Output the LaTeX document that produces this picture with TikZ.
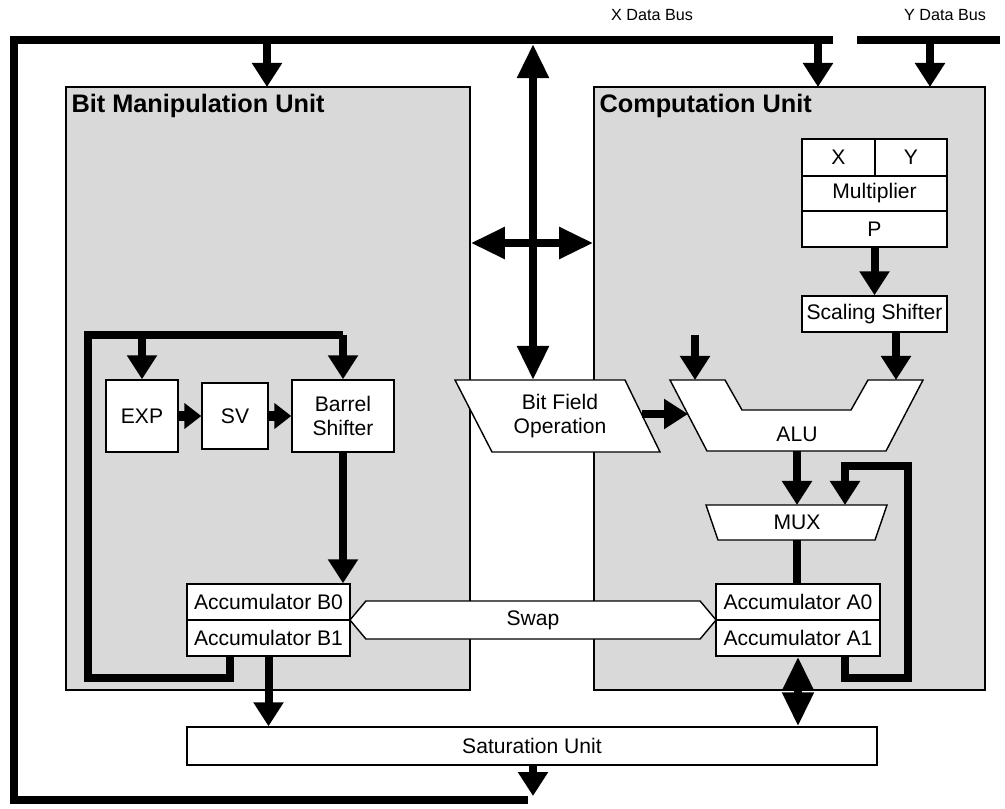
\documentclass[tikz,border=0pt]{standalone}
\usepackage{fontspec}
\setmainfont{Liberation Sans}
\usetikzlibrary{arrows.meta,shapes.symbols}

\tikzset{
  unitbox/.style={draw, line width=1pt, fill=black!15, inner sep=0pt},
  blk/.style={draw, line width=1pt, fill=white, inner sep=0pt, font=\fontsize{15}{17}\selectfont},
  blkline/.style={draw, line width=1pt, fill=white, line join=miter},
  lbl/.style={inner sep=0pt, font=\fontsize{15}{17}\selectfont, align=center},
  unittitle/.style={anchor=north west, inner sep=0pt, font=\bfseries\fontsize{18}{20}\selectfont},
  buslbl/.style={inner sep=0pt, font=\fontsize{11.5}{13}\selectfont},
  bus/.style={line width=0.2cm, line join=miter},
  flow/.style={line width=0.2cm, -{Triangle[width=0.72cm,length=0.6cm]}},
  shortflow/.style={line width=0.24cm, -{Triangle[width=0.62cm,length=0.42cm]}},
  both/.style={line width=0.2cm, {Triangle[width=0.75cm,length=0.85cm]}-{Triangle[width=0.75cm,length=0.85cm]}}
}

\begin{document}
\begin{tikzpicture}[x=0.025cm, y=-0.025cm]
    \useasboundingbox (0,0) rectangle (1005,808);

    % Units
    \node[unitbox, minimum width=10.1cm, minimum height=15.075cm] (bmu) at (268,388.5) {};
    \node[unitbox, minimum width=9.775cm, minimum height=15.075cm] (cu) at (789.5,388.5) {};
    \node[unittitle] (bmutitle) at ([shift={(6,8)}]bmu.north west) {Bit Manipulation Unit};
    \node[unittitle] (cutitle) at ([shift={(6,8)}]cu.north west) {Computation Unit};

    % Data buses
    \node[buslbl] (xlbl) at (652,15) {X Data Bus};
    \node[buslbl] (ylbl) at (945,15) {Y Data Bus};
    \coordinate (xend) at (833,40);
    \coordinate (xleft) at (14,40);
    \coordinate (xbot) at (528,800);
    \draw[bus] (xend) -- (xleft) -- (14,800) -- (xbot);
    \draw[bus] (857,40) -- (1000,40);
    \foreach \x in {267,818,930} \draw[flow] (\x,40) -- (\x,87);

    % Bit manipulation unit
    \node[blk, minimum width=1.8cm, minimum height=1.8cm] (exp) at (142,416) {EXP};
    \node[blk, minimum width=1.65cm, minimum height=1.65cm] (sv) at (235,416) {SV};
    \node[blk, minimum width=2.55cm, minimum height=1.8cm, align=center] (barrel) at (343,416) {Barrel\\Shifter};
    \node[blk, minimum width=4.075cm, minimum height=0.9cm] (accb0) at (268.5,602) {Accumulator B0};
    \node[blk, minimum width=4.075cm, minimum height=0.9cm] (accb1) at (268.5,638) {Accumulator B1};
    \draw[shortflow] (exp) -- (sv);
    \draw[shortflow] (sv) -- (barrel);
    \draw[flow] (barrel.south) -- (barrel.south |- accb0.north);
    \draw[bus] (230,656) |- (88,678) -- (88,335) -- (343,335);
    \draw[flow] (barrel.north |- 0,335) -- (barrel.north);
    \draw[flow] (exp.north |- 0,335) -- (exp.north);

    % Computation unit
    \node[blk, minimum width=1.825cm, minimum height=0.925cm] (mx) at (838.5,157.5) {X};
    \node[blk, minimum width=1.8cm, minimum height=0.925cm] (my) at (911,157.5) {Y};
    \node[blk, minimum width=3.625cm, minimum height=0.875cm] (mult) at (874.5,193.5) {Multiplier};
    \node[blk, minimum width=3.625cm, minimum height=0.9cm] (prod) at (874.5,229) {P};
    \node[blk, minimum width=3.625cm, minimum height=0.9cm] (scal) at (874.5,314) {Scaling Shifter};
    \draw[flow] (prod.south) -- (prod.south |- scal.north);

    % ALU
    \draw[blkline] (670,380) -- (725,380) -- (742,410) -- (851,410) -- (868,380) -- (923,380) -- (886,451) -- (707,451) -- cycle;
    \node[lbl] (alu) at (797,434) {ALU};
    \coordinate (aluinA) at (695,380);
    \coordinate (aluinB) at (896,380);
    \coordinate (aluout) at (797,451);
    \coordinate (aluside) at (688,414);
    \draw[flow] (695,335) -- (aluinA);
    \draw[flow] (scal.south -| aluinB) -- (aluinB);

    % MUX
    \draw[blkline] (706,505) -- (887,505) -- (875,540) -- (718,540) -- cycle;
    \node[lbl] (mux) at (797,522) {MUX};
    \coordinate (muxin) at (797,505);
    \coordinate (muxfb) at (845,505);
    \coordinate (muxout) at (797,540);
    \draw[flow] (aluout) -- (muxin);

    \node[blk, minimum width=4.1cm, minimum height=0.9cm] (acca0) at (798,602) {Accumulator A0};
    \node[blk, minimum width=4.1cm, minimum height=0.9cm] (acca1) at (798,638) {Accumulator A1};
    \draw[bus] (muxout) -- (muxout |- acca0.north);
    \draw[bus] (845,656) |- (908,678) -- (908,466) -- (845,466) -- (845,480);
    \draw[flow] (845,462) -- (muxfb);

    % Bit field operation
    \draw[blkline] (455,380) -- (625,380) -- (660,452) -- (492,452) -- cycle;
    \node[lbl] (bfo) at (560,416) {Bit Field\\Operation};
    \coordinate (bfotop) at (533,380);
    \coordinate (bfoside) at (642,414);
    \draw[flow] (bfoside) -- (aluside);
    \draw[both] (533,44) -- (bfotop);
    \draw[both] (bmu.east |- 0,243) -- (cu.west |- 0,243);

    % Swap and saturation
    \node[blk, signal, signal to=west and east, signal pointer angle=100, minimum width=9.15cm, minimum height=0.95cm] (swap) at (533,620) {Swap};
    \node[blk, minimum width=17.25cm, minimum height=0.95cm] (sat) at (532,746) {Saturation Unit};
    \draw[flow] (accb1.south) -- (accb1.south |- sat.north);
    \draw[both] (acca1.south) -- (acca1.south |- sat.north);
    \draw[flow] (sat.south -| 533,0) -- (533,796);
\end{tikzpicture}
\end{document}
